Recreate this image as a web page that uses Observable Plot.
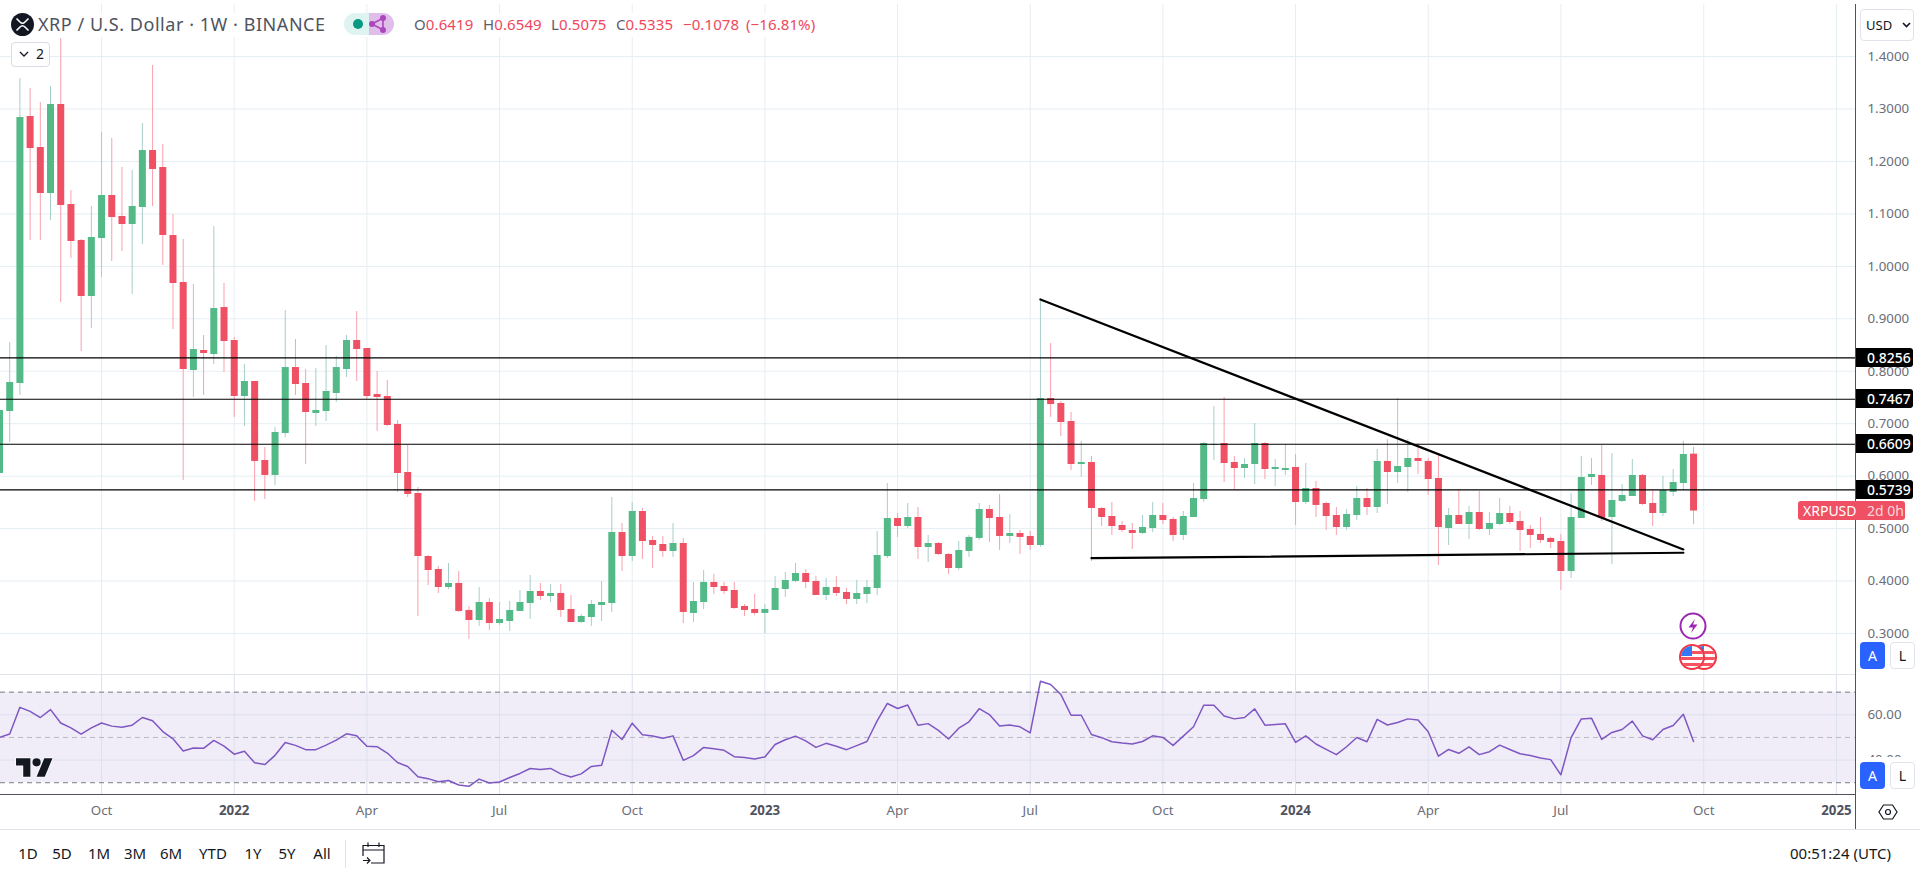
<!DOCTYPE html>
<html><head><meta charset="utf-8">
<script src="https://cdn.jsdelivr.net/npm/d3@7"></script>
<script src="https://cdn.jsdelivr.net/npm/@observablehq/plot@0.6"></script>
<style>
html,body{margin:0;padding:0;background:#fff;overflow:hidden}
#app{position:relative;width:1920px;height:873px;overflow:hidden;font-family:"Noto Sans",sans-serif;background:#fff}
#app svg{display:block}
.abs{position:absolute;white-space:nowrap}
.line{position:absolute}
.btn{position:absolute;box-sizing:border-box;border-radius:4px;text-align:center}
.tab{position:absolute;top:843px;font-size:15px;line-height:20px;color:#131722;transform:translateX(-50%)}
.ohlc{position:absolute;top:13px;font-size:15px;line-height:22px;color:#f0475c;letter-spacing:.1px}
.ohlc b{font-weight:400;color:#5d606b}
.tag{position:absolute;font-size:14px;color:#fff;box-sizing:border-box}
</style></head><body><div id="app"></div>
<script>
const firstWeek = "2021-07-26";
const opens = [.6051,.7233,.7767,1.2857,1.2266,1.1389,1.3086,1.1179,1.0493,.9425,
1.0531,1.1351,1.0951,1.0798,1.1122,1.2209,1.1885,1.0588,.9692,.8014,
.8396,.8320,.9215,.8586,.7519,.7805,.6299,.6013,.6813,.8071,
.7767,.7195,.7233,.7576,.8033,.8586,.8434,.7557,.7519,.6985,
.6070,.5669,.4468,.4220,.3877,.3954,.3439,.3248,.3591,.3191,
.3229,.3420,.3572,.3801,.3705,.3763,.3458,.3210,.3305,.3534,
.3572,.4926,.4468,.5326,.4773,.4697,.4564,.4716,.3382,.3591,
.3973,.3896,.3820,.3515,.3458,.3382,.3439,.3839,.3992,.4144,
.3992,.3725,.3877,.3782,.3649,.3744,.3858,.4468,.5193,.5040,
.5212,.4640,.4716,.4506,.4239,.4564,.4812,.5364,.5212,.4850,
.4907,.4850,.4678,.7481,.7385,.7042,.6222,.6260,.5383,.5231,
.5059,.4964,.4907,.5002,.5250,.5174,.4869,.5212,.5555,.6585,
.6623,.6260,.6146,.6222,.6623,.6127,.6108,.6165,.5498,.5765,
.5479,.5250,.5021,.5250,.5574,.5402,.6280,.6070,.6165,.6337,
.6280,.5955,.5002,.5250,.5078,.5307,.4983,.5078,.5288,.5135,
.4983,.4888,.4812,.4754,.4182,.5193,.5974,.6013,.5212,.5517,
.5612,.6013,.5479,.5288,.5689,.5860,.6419];
const highs = [.7252,.8548,1.3582,1.3391,1.3124,1.3429,1.4344,1.1446,1.0512,1.1141,
1.2552,1.2438,1.1885,1.1828,1.2724,1.3830,1.2323,1.0989,1.0512,.9654,
.8682,1.0760,.9673,.8644,.8129,.7805,.6547,.6928,.9158,.8605,
.8033,.8052,.8491,.8281,.8682,.9139,.8434,.7995,.7824,.7061,
.6584,.5784,.4487,.4277,.4335,.4182,.3515,.3877,.3668,.3591,
.3610,.3820,.4106,.3954,.3935,.3935,.3725,.3362,.3629,.3992,
.5593,.5098,.5498,.5383,.4850,.4850,.5098,.4812,.3973,.4201,
.4125,.3973,.3973,.3553,.3744,.3553,.4087,.4163,.4335,.4220,
.4087,.4049,.4087,.3858,.4011,.4011,.4945,.5860,.5288,.5479,
.5402,.4869,.4735,.4525,.4754,.4869,.5479,.5441,.5650,.5269,
.4964,.4945,.9368,.8530,.7423,.7214,.6661,.6375,.5402,.5498,
.5135,.5098,.5250,.5498,.5479,.5212,.5326,.5860,.6642,.7328,
.7500,.6375,.6337,.7004,.6642,.6318,.6604,.6413,.6241,.5898,
.5498,.5402,.5364,.5803,.5765,.6508,.6699,.7481,.6699,.6623,
.6337,.6394,.5383,.5727,.5421,.5708,.5307,.5574,.5421,.5326,
.5059,.5212,.4830,.4888,.5669,.6375,.6337,.6585,.6432,.5841,
.6318,.6032,.5727,.5994,.6127,.6661,.6549];
const lows = [.6051,.6642,.7538,1.0493,1.0493,1.0875,.9311,1.0150,.8377,.8815,
.9788,1.0093,1.0283,.9464,1.0417,1.1141,1.0017,.8796,.5917,.7500,
.7538,.8129,.7977,.7118,.6947,.5517,.5555,.5822,.6737,.7538,
.6222,.6947,.7042,.7404,.7881,.7805,.7462,.6852,.6947,.5689,
.5593,.3324,.3915,.3763,.3839,.3401,.2886,.3134,.3057,.3153,
.3038,.3420,.3267,.3629,.3591,.3305,.3210,.3191,.3134,.3229,
.3401,.4182,.4373,.4411,.4239,.4449,.4449,.3191,.3210,.3458,
.3744,.3744,.3458,.3324,.3343,.3000,.3439,.3687,.3973,.3858,
.3725,.3629,.3705,.3553,.3553,.3572,.3725,.4430,.4830,.5002,
.4411,.4354,.4487,.4125,.4201,.4449,.4773,.4735,.4583,.4716,
.4506,.4583,.4640,.7118,.6756,.6108,.5974,.4373,.5040,.4869,
.4926,.4602,.4888,.4926,.5078,.4754,.4773,.5212,.5498,.6299,
.5879,.5746,.5955,.5841,.5936,.5803,.6013,.5059,.5460,.5212,
.4964,.4869,.4964,.5155,.5250,.5288,.5460,.5860,.5689,.6032,
.5631,.4297,.4678,.5078,.4792,.4964,.4869,.5059,.5078,.4564,
.4621,.4716,.4621,.3820,.4049,.5193,.5822,.5135,.4316,.5498,
.5612,.5441,.5040,.5231,.5612,.5727,.5075];
const closes = [.7252,.7786,1.2838,1.2247,1.1389,1.3086,1.1160,1.0474,.9425,1.0550,
1.1351,1.0932,1.0798,1.1141,1.2209,1.1847,1.0588,.9673,.8033,.8415,
.8339,.9196,.8567,.7519,.7805,.6280,.6013,.6832,.8071,.7748,
.7214,.7252,.7614,.8071,.8586,.8415,.7519,.7500,.6966,.6051,
.5650,.4468,.4201,.3877,.3954,.3420,.3248,.3591,.3191,.3267,
.3439,.3591,.3801,.3705,.3763,.3439,.3210,.3324,.3553,.3591,
.4926,.4468,.5326,.4754,.4678,.4564,.4716,.3401,.3610,.3973,
.3877,.3801,.3477,.3439,.3382,.3458,.3858,.4011,.4144,.3973,
.3725,.3877,.3763,.3649,.3763,.3877,.4487,.5193,.5040,.5212,
.4640,.4716,.4506,.4239,.4583,.4831,.5364,.5193,.4850,.4907,
.4831,.4678,.7481,.7366,.7023,.6222,.6260,.5383,.5212,.5040,
.4964,.4907,.5021,.5250,.5155,.4869,.5231,.5574,.6623,.6604,
.6241,.6146,.6222,.6623,.6127,.6165,.6146,.5498,.5765,.5441,
.5231,.5021,.5269,.5574,.5402,.6280,.6070,.6184,.6337,.6280,
.5936,.5021,.5250,.5078,.5307,.4983,.5097,.5288,.5116,.4964,
.4869,.4773,.4735,.4182,.5212,.5974,.6032,.5193,.5536,.5631,
.6013,.5460,.5288,.5727,.5879,.6413,.5335];
const rsiValues = [50.0,51.5,63.3,61.5,58.8,62.3,56.4,54.2,51.5,54.2,
56.4,55.0,54.5,55.4,58.8,57.4,52.6,49.4,44.0,45.3,
45.2,48.7,46.2,42.6,43.9,38.8,38.0,42.1,47.8,46.5,
44.6,44.6,46.6,48.8,51.6,50.7,46.1,45.9,43.1,38.9,
37.2,32.6,31.8,30.4,31.0,29.0,28.4,31.6,29.9,30.3,
32.3,34.1,36.3,35.8,36.3,33.9,32.5,33.9,37.2,37.7,
53.2,49.1,56.3,51.2,50.6,49.6,50.7,39.9,42.0,45.6,
45.0,44.3,41.5,41.1,40.5,41.4,46.9,49.0,50.6,48.5,
45.6,47.4,46.1,44.6,46.4,48.2,57.3,65.0,62.8,64.3,
55.4,56.1,53.1,49.3,54.1,56.9,62.7,60.1,55.1,55.5,
54.7,52.0,74.8,73.4,69.0,59.8,59.8,51.3,49.9,48.1,
47.5,47.1,48.2,50.7,50.0,46.5,50.6,54.7,64.2,64.2,
59.5,58.2,58.8,62.6,55.4,55.7,56.0,47.8,50.7,47.1,
44.7,42.4,45.9,50.0,48.1,58.0,55.5,56.6,58.2,57.7,
52.5,41.7,44.7,43.0,45.8,42.4,43.7,46.6,44.7,42.8,
42.0,40.9,40.2,33.5,49.9,58.2,58.5,49.1,52.2,53.5,
57.2,50.7,49.0,53.5,55.3,60.2,48.2];
const levels = [0.8256,0.7467,0.6609,0.5739];
const priceTicks = [0.3,0.4,0.5,0.6,0.7,0.8,0.9,1.0,1.1,1.2,1.3,1.4];
const rsiTicks = [40,60];
const monthTicks = ["2021-10-04","2022-04-04","2022-07-04","2022-10-03","2023-04-03","2023-07-03","2023-10-02","2024-04-01","2024-07-01","2024-10-07"];
const yearTicks = ["2022-01-03","2023-01-02","2024-01-01","2025-01-06"];
const trendDown = [["2023-07-10",0.9368],["2024-09-23",0.4602]];
const trendFlat = [["2023-08-14",0.4436],["2024-09-23",0.4539]];
const viewDomain = [new Date("2021-07-26T16:28Z"), new Date("2025-01-19T02:00Z")];
const priceDomain = [0.2218,1.4993];
const rsiDomain = [24.8,77.8];

const UP="#53B987", DOWN="#EF5063", UPW="#A7CEC9", DOWNW="#F8A1AD", GRID="#E6EEF3", GRIDR="#DDE1EF";
const FONT='"Noto Sans",sans-serif';
const start = new Date(firstWeek+"T00:00Z");
const candles = opens.map((o,i)=>({date:d3.utcDay.offset(start,7*i),open:o,high:highs[i],low:lows[i],close:closes[i],up:closes[i]>=o}));
const rsi = rsiValues.map((v,i)=>({date:d3.utcDay.offset(start,7*i),v}));
const toDate = s=>new Date(s+"T00:00Z");
const allTicks = [...monthTicks,...yearTicks].map(toDate);
const tr = a=>a.map(([d,v])=>({date:toDate(d),v}));
const monthName = d=>({0:"Jan",3:"Apr",6:"Jul",9:"Oct"})[d.getUTCMonth()];

const priceChart = Plot.plot({
  width:1920,height:674,marginTop:4,marginRight:65,marginBottom:0,marginLeft:0,
  style:{fontFamily:FONT,fontSize:"13.3px",background:"transparent",overflow:"hidden"},
  x:{type:"utc",domain:viewDomain,axis:null},
  y:{domain:priceDomain,label:null},
  marks:[
    Plot.ruleY(priceTicks,{stroke:GRID}),
    Plot.ruleX(allTicks,{stroke:GRID}),
    Plot.ruleX(candles,{x:"date",y1:"low",y2:"high",stroke:d=>d.up?UPW:DOWNW,strokeWidth:1}),
    Plot.ruleX(candles,{x:"date",y1:"open",y2:"close",stroke:d=>d.up?UP:DOWN,strokeWidth:7}),
    Plot.ruleY(levels,{stroke:"#000",strokeWidth:1.1}),
    Plot.line(tr(trendDown),{x:"date",y:"v",stroke:"#000",strokeWidth:2.2}),
    Plot.line(tr(trendFlat),{x:"date",y:"v",stroke:"#000",strokeWidth:2.2}),
    Plot.axisY(priceTicks,{anchor:"right",tickSize:0,tickPadding:12,textAnchor:"start",tickFormat:d=>d.toFixed(4),fill:"#6a6d78",label:null})
  ]
});
const rsiChart = Plot.plot({
  width:1920,height:155,marginTop:0,marginRight:65,marginBottom:35,marginLeft:0,
  style:{fontFamily:FONT,fontSize:"13.3px",background:"transparent",overflow:"hidden"},
  x:{type:"utc",domain:viewDomain},
  y:{domain:rsiDomain,label:null},
  marks:[
    Plot.rect([0],{y1:30,y2:70,fill:"#F0ECF8"}),
    Plot.ruleY(rsiTicks,{stroke:GRIDR}),
    Plot.ruleX(allTicks,{stroke:GRIDR}),
    Plot.ruleY([70,30],{stroke:"#787B86",strokeDasharray:"5,4"}),
    Plot.ruleY([50],{stroke:"#B9B9C2",strokeDasharray:"5,4"}),
    Plot.line(rsi,{x:"date",y:"v",stroke:"#7E57C2",strokeWidth:1.5}),
    Plot.axisY(rsiTicks,{anchor:"right",tickSize:0,tickPadding:12,textAnchor:"start",tickFormat:d=>d.toFixed(2),fill:"#6a6d78",label:null}),
    Plot.axisX(monthTicks.map(toDate),{tickSize:0,tickPadding:11,tickFormat:monthName,fill:"#6a6d78",label:null}),
    Plot.axisX(yearTicks.map(toDate),{tickSize:0,tickPadding:11,tickFormat:d=>String(d.getUTCFullYear()),fill:"#50535e",fontWeight:"bold",label:null})
  ]
});
const app = document.getElementById("app");
const place=(el,top)=>{el.style.position="absolute";el.style.left="0";el.style.top=top+"px";app.appendChild(el)};
place(priceChart,0); place(rsiChart,674);

const add=(html)=>{const t=document.createElement("div");t.innerHTML=html;while(t.firstChild)app.appendChild(t.firstChild)};
const box=(l,t,w,h,c)=>`<div class="line" style="left:${l}px;top:${t}px;width:${w}px;height:${h}px;background:${c}"></div>`;
add(box(0,674,1855,1,"#E0E3EB")+box(0,794,1855,1,"#50535E")+box(0,829,1920,1,"#E0E3EB")+box(1855,4,1,825,"#50535E"));
const py=priceChart.scale("y");
levels.forEach(v=>{
  const y=py.apply(v);
  add(`<div class="tag" style="left:1856px;top:${y-9.5}px;width:57px;height:19px;line-height:19px;background:#000;border-radius:0 3px 3px 0;padding-left:11px;font-weight:500">${v.toFixed(4)}</div>`);
});
const yc=py.apply(closes[closes.length-1]);
add(`<div class="tag" style="left:1798px;top:${yc-9.5}px;width:107px;height:19px;line-height:19px;background:#EF5063;border-radius:3px"><span style="position:absolute;left:5px">XRPUSD</span><span style="position:absolute;left:69px;color:#fbd5da">2d 0h</span></div>`);
add(box(8,13,815,24,"#fff"));
add(`<svg class="abs" style="left:11px;top:13px" width="23" height="23" viewBox="0 0 23 23"><circle cx="11.5" cy="11.5" r="11.5" fill="#131722"/><path d="M5.5 5.5 L9 9 Q11.5 11.5 14 9 L17.5 5.5 M5.5 17.5 L9 14 Q11.5 11.5 14 14 L17.5 17.5" fill="none" stroke="#fff" stroke-width="1.6"/></svg>`);
add(`<div class="abs" style="left:38px;top:12px;font-size:18px;line-height:25px;color:#50535E;letter-spacing:.55px">XRP / U.S. Dollar · 1W · BINANCE</div>`);
add(`<svg class="abs" style="left:344px;top:13px" width="50" height="22" viewBox="0 0 50 22"><path d="M25 0H11a11 11 0 0 0 0 22H25z" fill="#DFF3F0"/><path d="M25 0H39a11 11 0 0 1 0 22H25z" fill="#E0BDEA"/><circle cx="14" cy="11" r="5" fill="#089981"/><path d="M28 11L39 5V17z" fill="none" stroke="#AB47BC" stroke-width="1.6"/><circle cx="28" cy="11" r="3" fill="#AB47BC"/><circle cx="39" cy="5" r="3" fill="#AB47BC"/><circle cx="39" cy="17" r="3" fill="#AB47BC"/></svg>`);
[[414,"O","0.6419"],[483,"H","0.6549"],[551,"L","0.5075"],[616,"C","0.5335"]].forEach(([x,a,v])=>add(`<div class="ohlc" style="left:${x}px"><b>${a}</b>${v}</div>`));
add(`<div class="ohlc" style="left:683px">−0.1078</div><div class="ohlc" style="left:746px">(−16.81%)</div>`);
add(`<div class="btn" style="left:11px;top:42px;width:39px;height:25px;border:1px solid #D9DBE5;background:#fff;font-size:14px;line-height:22px;color:#131722"><svg style="position:absolute;left:7px;top:8px" width="10" height="7" viewBox="0 0 10 7"><path d="M1 1L5 5L9 1" fill="none" stroke="#131722" stroke-width="1.3"/></svg><span style="position:absolute;left:24px">2</span></div>`);
add(`<div class="btn" style="left:1860px;top:9px;width:54px;height:32px;border:1px solid #E0E3EB;background:#fff;font-size:13px;line-height:30px;color:#131722;text-align:left;padding-left:5px">USD<svg style="position:absolute;left:41px;top:12px" width="9" height="6" viewBox="0 0 9 6"><path d="M1 1L4.5 4.5L8 1" fill="none" stroke="#131722" stroke-width="1.6"/></svg></div>`);
add(`<svg class="abs" style="left:1678px;top:611px" width="30" height="30" viewBox="0 0 30 30"><circle cx="15" cy="15" r="12.5" fill="#fff" stroke="#9C27B0" stroke-width="2"/><path d="M17 8L10.5 16.5H15L13 22L19.5 13.5H15z" fill="#9C27B0"/></svg>`);
const flag=(cx,id)=>`<g><clipPath id="${id}"><circle cx="${cx}" cy="15" r="11"/></clipPath><circle cx="${cx}" cy="15" r="12" fill="#fff" stroke="#F23645" stroke-width="2"/><g clip-path="url(#${id})"><rect x="${cx-11}" y="9" width="22" height="3" fill="#F7525F"/><rect x="${cx-11}" y="15" width="22" height="3" fill="#F7525F"/><rect x="${cx-11}" y="21" width="22" height="3" fill="#F7525F"/><rect x="${cx-11}" y="4" width="11" height="10" fill="#3179F5"/></g></g>`;
add(`<svg class="abs" style="left:1677px;top:642px" width="44" height="30" viewBox="0 0 44 30">${flag(27,"f2")}${flag(15,"f1")}</svg>`);
add(box(1856,757,64,37,"#fff"));
[642,762].forEach(t=>add(`<div class="btn" style="left:1860px;top:${t}px;width:25px;height:27px;background:#2962FF;color:#fff;font-size:14px;line-height:27px">A</div><div class="btn" style="left:1890px;top:${t}px;width:25px;height:27px;border:1px solid #E0E3EB;background:#fff;color:#131722;font-size:14px;line-height:25px">L</div>`));
add(`<svg class="abs" style="left:1878px;top:802px" width="20" height="20" viewBox="0 0 20 20"><path d="M5.5 3H14.5L19 10L14.5 17H5.5L1 10z" fill="none" stroke="#131722" stroke-width="1.2"/><circle cx="10" cy="10" r="2.5" fill="none" stroke="#131722" stroke-width="1.2"/></svg>`);
add(`<svg class="abs" style="left:15px;top:757px" width="38" height="21" viewBox="-1 3 37 20"><path d="M14 22H7V11H0V4h14zM28 22h-8l7.5-18h8z" fill="#131722" stroke="#fff" stroke-width="1.5" paint-order="stroke"/><circle cx="20" cy="8" r="4" fill="#131722" stroke="#fff" stroke-width="1.5" paint-order="stroke"/></svg>`);
[["1D",28],["5D",62],["1M",99],["3M",135],["6M",171],["YTD",213],["1Y",253],["5Y",287],["All",322]].forEach(([t,x])=>add(`<div class="tab" style="left:${x}px">${t}</div>`));
add(box(345,840,1,28,"#E0E3EB"));
add(`<svg class="abs" style="left:362px;top:841px" width="24" height="24" viewBox="0 0 24 24"><path d="M1 15V4.5H22V22H9M1 9H22M6 1.5V6M17 1.5V6M1 19.5H7M5 16.5L8 19.5L5 22.5" fill="none" stroke="#131722" stroke-width="1.2"/></svg>`);
add(`<div class="abs" style="left:1790px;top:843px;font-size:15px;line-height:20px;color:#131722">00:51:24 (UTC)</div>`);
</script></body></html>
